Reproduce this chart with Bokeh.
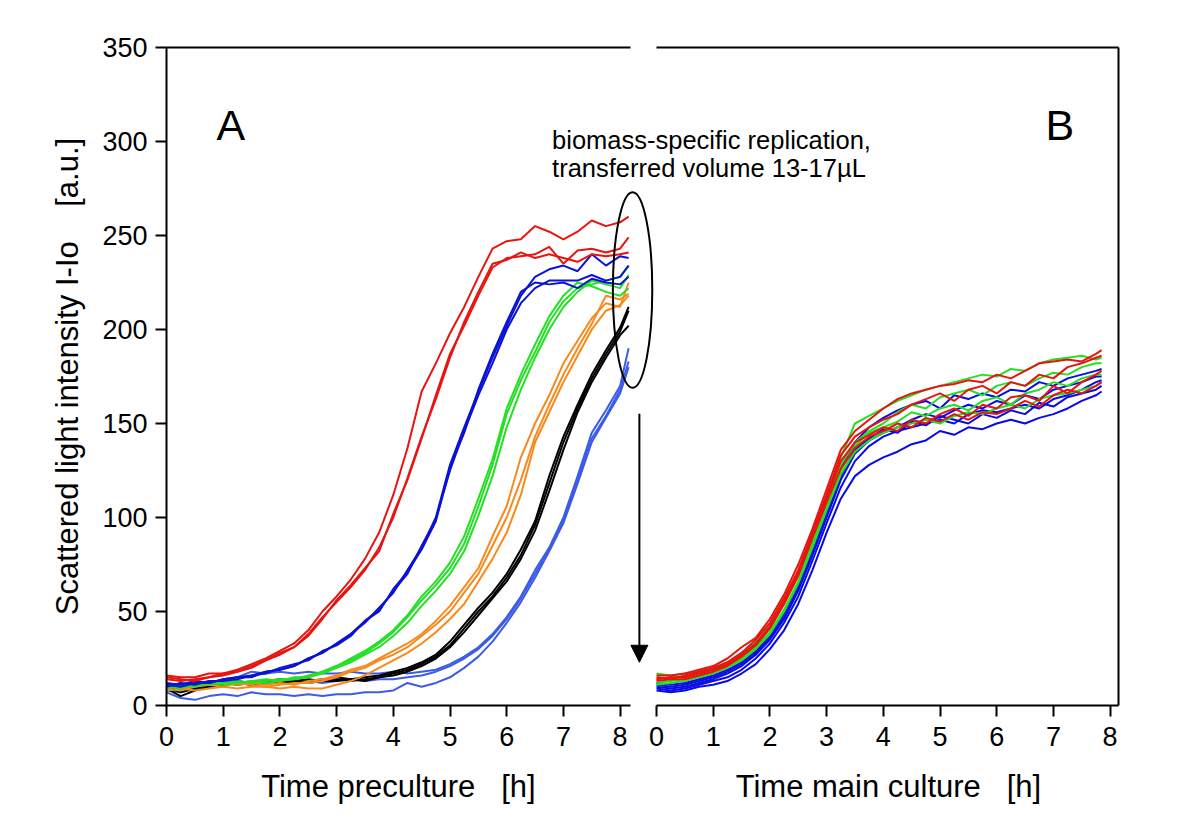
from bokeh.plotting import figure
from bokeh.layouts import column
from bokeh.models import (Range1d, LinearAxis, FixedTicker, CustomJSTickFormatter,
                          Label, Arrow, NormalHead)
from bokeh.embed import file_html
from bokeh.resources import INLINE

FONT = "Liberation Sans"

# ---------------- data: panel A (preculture) ----------------
t_pre = [0, 0.25, 0.5, 0.75, 1.0, 1.25, 1.5, 1.75, 2.0, 2.25, 2.5, 2.75, 3.0, 3.25, 3.5, 3.75,
         4.0, 4.25, 4.5, 4.75, 5.0, 5.25, 5.5, 5.75, 6.0, 6.25, 6.5, 6.75, 7.0, 7.25, 7.5, 7.75,
         8.0, 8.15]

red_1 = [16, 15, 15, 17, 17, 19, 22, 25, 29, 33, 40, 50, 58, 67, 78, 92, 112, 137, 167, 182,
         198, 212, 228, 243, 247, 248, 255, 252, 248, 252, 258, 255, 257, 260]
red_2 = [14, 13, 14, 15, 16, 18, 21, 24, 28, 31, 37, 46, 56, 64, 73, 82, 102, 120, 142, 165,
         187, 202, 218, 233, 238, 239, 240, 244, 235, 242, 243, 241, 243, 249]
red_3 = [15, 14, 13, 15, 17, 18, 20, 24, 27, 31, 38, 47, 55, 63, 72, 84, 100, 121, 143, 163,
         185, 204, 220, 235, 237, 241, 238, 240, 238, 236, 240, 239, 240, 241]

blue_1 = [12, 11, 13, 12, 14, 15, 16, 18, 19, 21, 25, 28, 33, 38, 44, 52, 60, 72, 84, 100,
          128, 148, 167, 185, 202, 218, 228, 232, 234, 231, 240, 234, 239, 238]
blue_2 = [10, 12, 11, 13, 13, 14, 16, 17, 20, 22, 24, 29, 32, 37, 45, 51, 61, 70, 85, 99,
          125, 146, 165, 182, 200, 214, 222, 226, 226, 226, 229, 226, 228, 234]
blue_3 = [11, 10, 12, 12, 14, 15, 15, 18, 19, 21, 25, 28, 33, 38, 45, 50, 62, 71, 83, 98,
          127, 145, 168, 187, 204, 220, 225, 224, 225, 222, 227, 225, 224, 228]

green_1 = [10, 9, 11, 12, 12, 13, 12, 13, 14, 14, 15, 18, 21, 24, 28, 33, 39, 47, 56, 64,
           73, 86, 106, 128, 155, 173, 188, 204, 215, 222, 224, 226, 228, 234]
green_2 = [9, 11, 10, 12, 11, 12, 13, 12, 13, 15, 15, 17, 20, 23, 27, 31, 37, 44, 53, 61,
           70, 82, 101, 122, 148, 168, 185, 200, 212, 220, 226, 224, 222, 229]
green_3 = [11, 10, 12, 11, 13, 12, 13, 14, 13, 14, 16, 18, 21, 25, 29, 34, 40, 48, 58, 66,
           76, 90, 110, 131, 158, 176, 192, 207, 218, 225, 223, 220, 218, 222]

orange_1 = [10, 12, 11, 13, 12, 11, 12, 11, 12, 11, 13, 14, 16, 19, 21, 25, 29, 33, 38, 45,
            53, 63, 73, 90, 106, 132, 150, 165, 182, 194, 206, 214, 212, 225]
orange_2 = [9, 8, 10, 11, 10, 12, 11, 10, 11, 12, 12, 13, 15, 18, 20, 24, 27, 31, 37, 43,
            50, 60, 70, 85, 100, 120, 143, 160, 176, 190, 203, 218, 216, 219]
orange_3 = [8, 9, 8, 9, 10, 9, 10, 10, 9, 10, 9, 9, 11, 13, 16, 20, 24, 28, 33, 39,
            46, 54, 66, 78, 92, 112, 140, 156, 172, 186, 200, 210, 213, 218]

black_1 = [9, 5, 8, 10, 11, 12, 11, 13, 12, 13, 14, 13, 13, 14, 15, 16, 18, 20, 23, 27,
           34, 43, 52, 60, 70, 83, 98, 122, 143, 160, 176, 189, 201, 212]
black_2 = [10, 7, 9, 11, 12, 11, 12, 12, 13, 12, 13, 14, 14, 13, 14, 15, 17, 19, 22, 26,
           32, 41, 50, 58, 68, 80, 96, 118, 140, 158, 174, 187, 199, 210]
black_3 = [11, 8, 10, 12, 11, 13, 12, 13, 14, 13, 12, 13, 15, 14, 13, 15, 16, 18, 21, 25,
           31, 39, 48, 57, 66, 78, 93, 114, 136, 156, 172, 185, 197, 202]

royal_1 = [9, 10, 11, 12, 13, 15, 18, 17, 18, 17, 18, 17, 17, 18, 17, 17, 18, 17, 18, 19,
           22, 26, 31, 38, 47, 58, 72, 84, 100, 122, 145, 157, 170, 190]
royal_2 = [8, 7, 9, 10, 11, 12, 11, 12, 13, 12, 13, 12, 13, 14, 13, 14, 14, 15, 16, 18,
           21, 25, 30, 37, 46, 57, 70, 83, 98, 120, 142, 154, 168, 183]
royal_3 = [7, 4, 3, 5, 6, 5, 7, 6, 6, 5, 6, 5, 6, 6, 7, 7, 8, 12, 10, 12,
           15, 20, 26, 34, 44, 55, 68, 82, 97, 118, 140, 153, 166, 180]

# ---------------- data: panel B (main culture) ----------------
t_main = [0, 0.25, 0.5, 0.75, 1.0, 1.25, 1.5, 1.75, 2.0, 2.25, 2.5, 2.75, 3.0, 3.25, 3.5, 3.75,
          4.0, 4.25, 4.5, 4.75, 5.0, 5.25, 5.5, 5.75, 6.0, 6.25, 6.5, 6.75, 7.0, 7.25, 7.5, 7.75,
          7.85]

main_red_1 = [16, 16, 17, 19, 21, 25, 31, 36, 46, 59, 75, 94, 115, 136, 146, 152, 158, 163, 166,
              168, 170, 171, 173, 172, 176, 174, 178, 182, 183, 184, 183, 187, 189]
main_red_2 = [15, 14, 16, 18, 20, 23, 28, 35, 44, 57, 72, 92, 112, 133, 143, 148, 152, 155, 160,
              163, 166, 162, 168, 170, 166, 172, 170, 176, 174, 180, 182, 185, 186]
main_red_3 = [14, 15, 15, 17, 19, 22, 27, 33, 42, 55, 70, 90, 110, 130, 140, 144, 148, 146, 152,
              150, 155, 158, 154, 160, 158, 164, 165, 162, 170, 166, 172, 176, 178]
main_red_4 = [13, 14, 14, 16, 18, 21, 26, 32, 41, 54, 69, 89, 108, 126, 137, 143, 146, 150, 148,
              153, 151, 155, 152, 156, 155, 158, 162, 159, 165, 168, 166, 170, 172]

main_green_1 = [17, 16, 17, 18, 20, 23, 28, 34, 43, 56, 71, 91, 111, 132, 150, 154, 158, 162, 165,
                168, 170, 172, 174, 176, 175, 179, 178, 182, 184, 185, 186, 184, 185]
main_green_2 = [14, 15, 15, 17, 19, 22, 26, 32, 41, 54, 69, 88, 108, 128, 140, 146, 150, 156, 160,
                158, 164, 166, 168, 165, 170, 172, 170, 174, 177, 176, 180, 182, 182]
main_green_3 = [12, 13, 14, 16, 18, 21, 25, 31, 39, 51, 66, 86, 106, 125, 138, 145, 148, 151, 156,
                154, 158, 160, 157, 162, 164, 160, 166, 168, 172, 170, 174, 176, 176]
main_green_4 = [11, 12, 13, 15, 17, 20, 24, 30, 38, 50, 65, 84, 104, 123, 135, 141, 145, 148, 150,
                152, 150, 154, 156, 155, 158, 160, 158, 163, 165, 166, 168, 170, 172]

main_blue_1 = [12, 11, 12, 14, 16, 19, 23, 29, 37, 49, 64, 84, 105, 126, 140, 148, 153, 157, 160,
               162, 158, 165, 163, 166, 164, 168, 167, 172, 170, 174, 176, 178, 179]
main_blue_2 = [10, 9, 10, 12, 14, 17, 21, 27, 35, 46, 61, 80, 100, 120, 134, 141, 145, 148, 152,
               155, 153, 157, 160, 158, 162, 160, 165, 163, 168, 170, 172, 175, 175]
main_blue_3 = [9, 8, 9, 11, 13, 15, 19, 25, 33, 44, 58, 77, 97, 116, 130, 138, 143, 146, 148,
               150, 152, 150, 155, 157, 156, 158, 160, 158, 163, 165, 168, 172, 173]
main_blue_4 = [11, 10, 11, 13, 15, 18, 22, 28, 36, 47, 62, 82, 102, 122, 136, 142, 147, 145, 151,
               149, 154, 152, 150, 155, 153, 157, 155, 161, 159, 164, 166, 168, 170]
main_blue_5 = [8, 7, 8, 10, 11, 13, 17, 22, 30, 40, 54, 72, 92, 110, 122, 128, 132, 135, 139,
               141, 146, 144, 148, 147, 150, 152, 150, 153, 155, 158, 162, 165, 167]

# ticks and labels
y_ticks = [0, 50, 100, 150, 200, 250, 300, 350]
x_ticks_pre = [0, 1, 2, 3, 4, 5, 6, 7, 8]
x_ticks_main = [0, 1, 2, 3, 4, 5, 6, 7, 8]
y_title = "Scattered light intensity I-Io\u00a0\u00a0\u00a0\u00a0[a.u.]"
x_title_pre = "Time preculture\u00a0\u00a0\u00a0[h]"
x_title_main = "Time main culture\u00a0\u00a0\u00a0[h]"
panel_a = "A"
panel_b = "B"
note_1 = "biomass-specific replication,"
note_2 = "transferred volume 13-17\u00b5L"

# ---------------- colours ----------------
C_RED = "#e8140f"
C_BLUE = "#0a12d6"
C_GREEN = "#24e024"
C_ORANGE = "#f8891c"
C_BLACK = "#000000"
C_ROYAL = "#3d5ce6"
C_MBLUE = "#0a0ae6"

groups_pre = [
    (C_ROYAL, [royal_1, royal_2, royal_3]),
    (C_BLACK, [black_1, black_2, black_3]),
    (C_ORANGE, [orange_1, orange_2, orange_3]),
    (C_GREEN, [green_1, green_2, green_3]),
    (C_BLUE, [blue_1, blue_2, blue_3]),
    (C_RED, [red_1, red_2, red_3]),
]
groups_main = [
    (C_MBLUE, [main_blue_1, main_blue_2, main_blue_3, main_blue_4, main_blue_5]),
    (C_GREEN, [main_green_1, main_green_2, main_green_3, main_green_4]),
    (C_RED, [main_red_1, main_red_2, main_red_3, main_red_4]),
]

# ---------------- geometry (in axis units) ----------------
X_END = 16.79        # right frame edge, in preculture hours
B_OFFSET = 8.642     # where main-culture hour 0 sits
A_AXIS_END = 8.18
B_AXIS_END = X_END - B_OFFSET

W = 1170
BL, BR = 166, 52

xr = Range1d(0, X_END)
xr_b = Range1d(-B_OFFSET, B_AXIS_END)

p = figure(width=W, height=761, x_range=xr, y_range=Range1d(0, 350),
           output_backend="svg", toolbar_location=None,
           x_axis_location=None, y_axis_location=None,
           min_border_left=BL, min_border_right=BR, min_border_top=47, min_border_bottom=56)
p.extra_x_ranges = {"B": xr_b}
p.outline_line_color = None
p.background_fill_color = "white"
p.border_fill_color = "white"
for g in p.grid:
    g.visible = False


def style(ax):
    ax.axis_line_width = 2
    ax.axis_line_color = "black"
    ax.major_tick_line_width = 2
    ax.major_tick_line_color = "black"
    ax.major_tick_out = 11
    ax.major_tick_in = 0
    ax.minor_tick_line_color = None
    ax.major_label_text_font = FONT
    ax.major_label_text_font_size = "27px"
    ax.major_label_text_color = "black"
    ax.major_label_standoff = 8
    ax.axis_label_text_font = FONT
    ax.axis_label_text_font_size = "31px"
    ax.axis_label_text_font_style = "normal"
    ax.axis_label_text_color = "black"
    return ax


def line_only(bounds, x_range_name="default"):
    ax = LinearAxis(ticker=FixedTicker(ticks=[]), bounds=bounds, x_range_name=x_range_name)
    style(ax)
    ax.major_tick_out = 0
    ax.major_label_standoff = 0
    return ax


# left axis
yax = style(LinearAxis(ticker=FixedTicker(ticks=y_ticks), axis_label=y_title, bounds=(0, 350)))
yax.axis_label_standoff = 14
p.add_layout(yax, "left")

# right border of panel B
p.add_layout(line_only((0, 350)), "right")

# top borders
p.add_layout(line_only((0, A_AXIS_END)), "above")
p.add_layout(line_only((0, B_AXIS_END), "B"), "above")

# bottom axis lines, then the ticks of both panels
p.add_layout(line_only((0, A_AXIS_END)), "below")
p.add_layout(line_only((0, B_AXIS_END), "B"), "below")
tick_pos = x_ticks_pre + [B_OFFSET + t for t in x_ticks_main]
xax = style(LinearAxis(ticker=FixedTicker(ticks=tick_pos)))
xax.axis_line_color = None
xax.major_label_standoff = 10
xax.formatter = CustomJSTickFormatter(
    code=f"var v = tick > {A_AXIS_END + 0.1} ? tick - {B_OFFSET} : tick; return Math.round(v).toString();")
p.add_layout(xax, "below")

# curves
for color, series in groups_pre:
    for ys in series:
        p.line(t_pre, ys, line_color=color, line_width=2)
for color, series in groups_main:
    for ys in series:
        p.line(t_main, ys, line_color=color, line_width=2, x_range_name="B")

# ellipse and arrow marking the transfer
ELL = dict(x=8.22, y=221.0, w=0.695, h=104.0)
p.ellipse(x=[ELL["x"]], y=[ELL["y"]], width=ELL["w"], height=ELL["h"],
          fill_color=None, line_color="black", line_width=2)
ARR = dict(x=8.34, y0=155.2, y1=23.0)
p.add_layout(Arrow(end=NormalHead(size=17, fill_color="black", line_color="black", line_width=1),
                   x_start=ARR["x"], y_start=ARR["y0"], x_end=ARR["x"], y_end=ARR["y1"],
                   line_width=2, line_color="black"))


def lab(x, y, text, size, align="left", rng="default"):
    return Label(x=x, y=y, text=text, x_range_name=rng, text_font=FONT,
                 text_font_size=size, text_color="black", text_align=align,
                 text_baseline="alphabetic")


p.add_layout(lab(0.88, 309, panel_a, "43px"))
p.add_layout(lab(6.86, 309, panel_b, "43px", rng="B"))
p.add_layout(lab(6.80, 300.9, note_1, "25.5px"))
p.add_layout(lab(6.80, 285.8, note_2, "25.5px"))

# strip below the plot holding the two x-axis titles
t = figure(width=W, height=55, x_range=xr, y_range=Range1d(0, 55),
           output_backend="svg", toolbar_location=None,
           x_axis_location=None, y_axis_location=None,
           min_border=0, min_border_left=BL, min_border_right=BR)
t.extra_x_ranges = {"B": xr_b}
t.outline_line_color = None
t.background_fill_color = "white"
t.border_fill_color = "white"
for g in t.grid:
    g.visible = False
t.add_layout(lab(4.09, 30, x_title_pre, "31px", align="center"))
t.add_layout(lab(4.09, 30, x_title_main, "31px", align="center", rng="B"))

layout = column(p, t, spacing=0)
open("out.html", "w").write(file_html(layout, INLINE))
